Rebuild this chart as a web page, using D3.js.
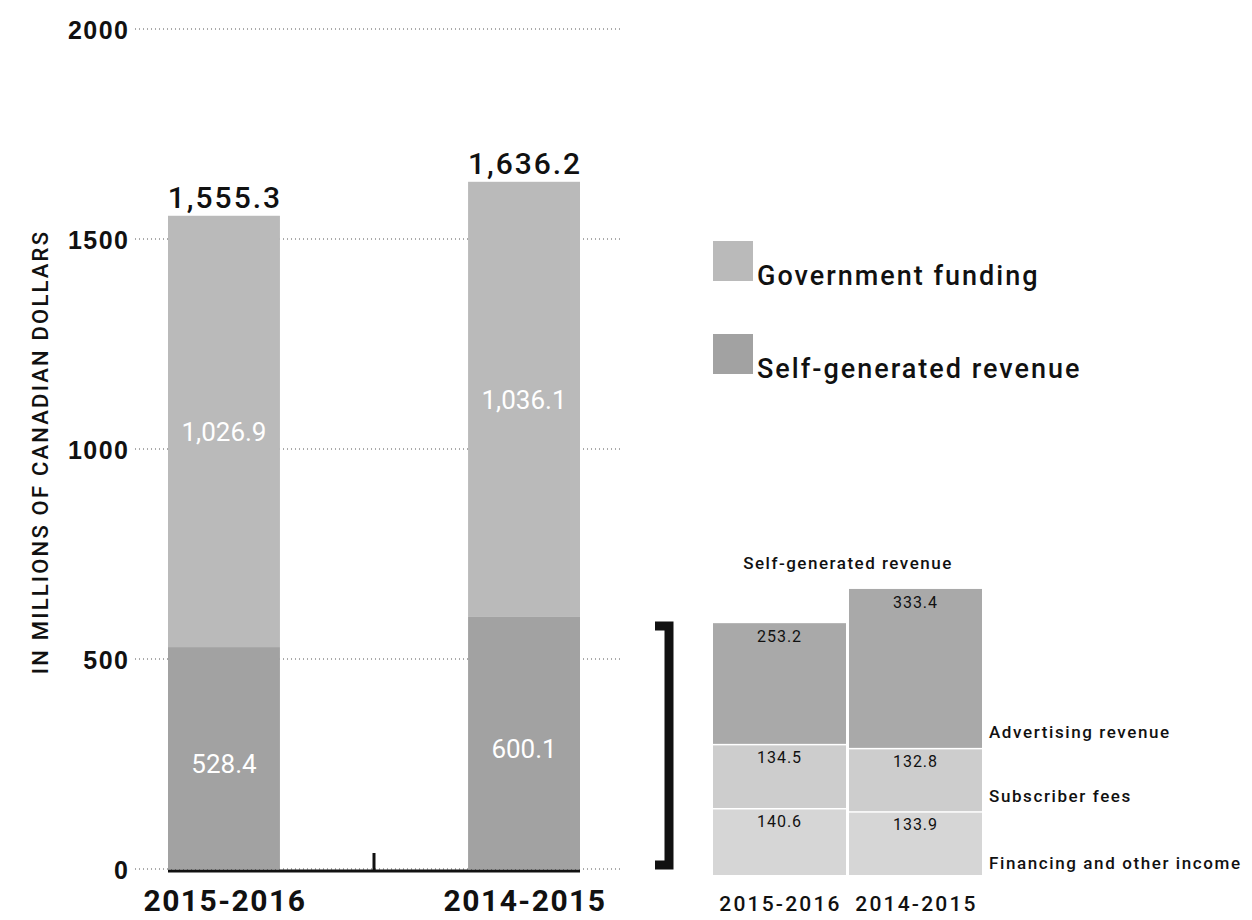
<!DOCTYPE html>
<html>
<head>
<meta charset="utf-8">
<script src="https://cdn.jsdelivr.net/npm/d3@7"></script>
<style>
  html, body { margin: 0; padding: 0; background: #fff; }
  svg { display: block; font-family: Roboto, "DejaVu Sans", sans-serif; }
</style>
</head>
<body>
<svg id="chart" width="1252" height="920"></svg>
<script>
// ---- Data ----
const years = ["2015-2016", "2014-2015"];
const governmentFunding = [1026.9, 1036.1];
const selfGenerated = [528.4, 600.1];
const totals = [1555.3, 1636.2];
const totalLabels = ["1,555.3", "1,636.2"];
const govLabels = ["1,026.9", "1,036.1"];
const selfLabels = ["528.4", "600.1"];
const yTicks = [0, 500, 1000, 1500, 2000];
const legendLabels = ["Government funding", "Self-generated revenue"];

const subCategories = ["Financing and other income", "Subscriber fees", "Advertising revenue"];
const subFinancing = [140.6, 133.9];
const subSubscriber = [134.5, 132.8];
const subAdvertising = [253.2, 333.4];
const subTitle = "Self-generated revenue";
const yAxisTitle = "IN MILLIONS OF CANADIAN DOLLARS";

// ---- Styles ----
const colGov = "#bababa";
const colSelf = "#a2a2a2";
const subColors = ["#d6d6d6", "#cdcdcd", "#a9a9a9"];

const svg = d3.select("#chart");

// ---- Main chart scales ----
const y = d3.scaleLinear().domain([0, 2000]).range([869, 29]);
const x = d3.scaleBand().domain(years).range([168, 580]).paddingInner(0.627).paddingOuter(0);

// gridlines (behind bars)
svg.append("g").selectAll("line").data(yTicks).join("line")
  .attr("x1", 135).attr("x2", 622)
  .attr("y1", d => y(d)).attr("y2", d => y(d))
  .attr("stroke", "#555").attr("stroke-width", 1).attr("stroke-dasharray", "1,3");

// tick labels via axis
const yAxis = d3.axisLeft(y).tickValues(yTicks).tickSize(0).tickPadding(0).tickFormat(d3.format("d"));
const gAxis = svg.append("g").attr("transform", "translate(129.5,0)").call(yAxis);
gAxis.select(".domain").remove();
gAxis.selectAll("text")
  .attr("x", 0).attr("dy", "0.36em")
  .style("font-size", "25px").style("font-weight", "700").style("fill", "#111")
  .style("letter-spacing", "1.5px")
  .attr("text-anchor", "end");

// y axis title
svg.append("text")
  .attr("transform", `translate(48,${452}) rotate(-90)`)
  .attr("text-anchor", "middle")
  .style("font-size", "22px").style("font-weight", "500").style("fill", "#111")
  .style("letter-spacing", "2.2px")
  .text(yAxisTitle);

// stacked bars
const stacks = years.map((yr, i) => ({ yr, self: selfGenerated[i], gov: governmentFunding[i], i }));

svg.append("g").selectAll("rect").data(stacks).join("rect")
  .attr("x", d => x(d.yr)).attr("width", x.bandwidth())
  .attr("y", d => y(d.self)).attr("height", d => y(0) - y(d.self))
  .attr("fill", colSelf);

svg.append("g").selectAll("rect").data(stacks).join("rect")
  .attr("x", d => x(d.yr)).attr("width", x.bandwidth())
  .attr("y", d => y(totals[d.i])).attr("height", d => y(d.self) - y(totals[d.i]))
  .attr("fill", colGov);

// inner labels
svg.append("g").selectAll("text").data(stacks).join("text")
  .attr("x", d => x(d.yr) + x.bandwidth() / 2)
  .attr("y", d => (y(d.self) + y(totals[d.i])) / 2)
  .attr("dy", "0.36em")
  .attr("text-anchor", "middle")
  .style("font-size", "26px").style("fill", "#fff")
  .text(d => govLabels[d.i]);

svg.append("g").selectAll("text").data(stacks).join("text")
  .attr("x", d => x(d.yr) + x.bandwidth() / 2)
  .attr("y", d => (y(0) + y(d.self)) / 2 + 6)
  .attr("dy", "0.36em")
  .attr("text-anchor", "middle")
  .style("font-size", "26px").style("fill", "#fff")
  .text(d => selfLabels[d.i]);

// total labels
svg.append("g").selectAll("text").data(stacks).join("text")
  .attr("x", d => x(d.yr) + x.bandwidth() / 2 + 1)
  .attr("y", d => y(totals[d.i]) - 8)
  .attr("text-anchor", "middle")
  .style("font-size", "30px").style("font-weight", "500").style("fill", "#111")
  .style("letter-spacing", "2px")
  .text(d => totalLabels[d.i]);

// bottom baseline with center tick
const x0 = x(years[0]), x1 = x(years[1]) + x.bandwidth();
svg.append("line").attr("x1", x0).attr("x2", x1).attr("y1", y(0) + 2).attr("y2", y(0) + 2)
  .attr("stroke", "#111").attr("stroke-width", 3);
const midX = (x(years[0]) + x.bandwidth() + x(years[1])) / 2;
svg.append("line").attr("x1", midX).attr("x2", midX).attr("y1", y(0) - 16).attr("y2", y(0) + 2)
  .attr("stroke", "#111").attr("stroke-width", 3);

// category labels
svg.append("g").selectAll("text").data(years).join("text")
  .attr("x", d => x(d) + x.bandwidth() / 2 + 1)
  .attr("y", 911)
  .attr("text-anchor", "middle")
  .style("font-size", "30px").style("font-weight", "700").style("fill", "#111")
  .style("letter-spacing", "1.5px")
  .text(d => d);

// bracket
const bTop = y(d3.max(selfGenerated)) + 9, bBot = y(0) - 4;
svg.append("path")
  .attr("d", `M655,${bTop} H669 V${bBot} H655`)
  .attr("fill", "none").attr("stroke", "#111").attr("stroke-width", 9);

// legend
const legend = svg.append("g");
[colGov, colSelf].forEach((c, i) => {
  legend.append("rect").attr("x", 713).attr("y", 241 + i * 93).attr("width", 40).attr("height", 40).attr("fill", c);
  legend.append("text").attr("x", 757).attr("y", 285 + i * 93)
    .style("font-size", "27px").style("font-weight", "500").style("fill", "#111")
    .style("letter-spacing", "2px")
    .text(legendLabels[i]);
});

// ---- Sub chart ----
const ys = d3.scaleLinear().domain([0, 600]).range([875, 589]);
const xs = d3.scaleBand().domain(years).range([713, 982]).paddingInner(0.022).paddingOuter(0);
const subSeries = [subFinancing, subSubscriber, subAdvertising];
const subRows = [];
years.forEach((yr, i) => {
  let base = 0;
  subSeries.forEach((s, k) => {
    subRows.push({ yr, k, i, y0: base, y1: base + s[i], v: s[i] });
    base += s[i];
  });
});

svg.append("text").attr("x", 848).attr("y", 569).attr("text-anchor", "middle")
  .style("font-size", "17px").style("font-weight", "500").style("fill", "#111")
  .style("letter-spacing", "1.5px").text(subTitle);

svg.append("g").selectAll("rect").data(subRows).join("rect")
  .attr("x", d => xs(d.yr)).attr("width", xs.bandwidth())
  .attr("y", d => ys(d.y1) + (d.k < 2 ? 1.5 : 0))
  .attr("height", d => ys(d.y0) - ys(d.y1) - (d.k < 2 ? 1.5 : 0))
  .attr("fill", d => subColors[d.k]);

svg.append("g").selectAll("text").data(subRows).join("text")
  .attr("x", d => xs(d.yr) + xs.bandwidth() / 2)
  .attr("y", d => ys(d.y1) + 19)
  .attr("text-anchor", "middle")
  .style("font-size", "16px").style("fill", "#111")
  .style("letter-spacing", "1px")
  .text(d => d.v.toFixed(1));

// row labels aligned to first column segment bottoms
svg.append("g").selectAll("text").data(subRows.filter(d => d.i === 0)).join("text")
  .attr("x", 989).attr("y", d => ys(d.y0) - 6)
  .style("font-size", "17px").style("font-weight", "500").style("fill", "#111")
  .style("letter-spacing", "1.6px")
  .text(d => subCategories[d.k]);

svg.append("g").selectAll("text").data(years).join("text")
  .attr("x", d => xs(d) + xs.bandwidth() / 2 + 1).attr("y", 911)
  .attr("text-anchor", "middle")
  .style("font-size", "21px").style("font-weight", "500").style("fill", "#111")
  .style("letter-spacing", "2.2px")
  .text(d => d);
</script>
</body>
</html>
